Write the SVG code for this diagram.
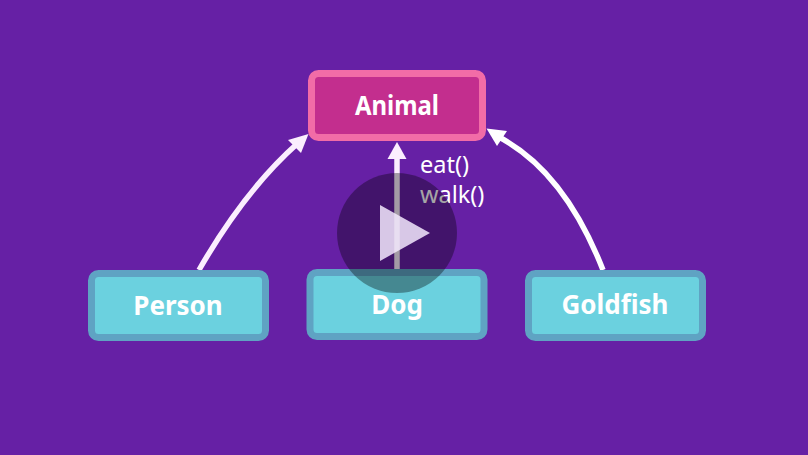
<svg xmlns="http://www.w3.org/2000/svg" width="808" height="455" viewBox="0 0 808 455">
<style>
.t{font-family:"Noto Sans","Open Sans","Liberation Sans",sans-serif;fill:#fff;text-anchor:middle}
.b{font-size:26px;font-weight:700}
.m{font-size:23.500px;text-anchor:start}
.c{fill:#6bd1df;stroke:#5fa3c3;stroke-width:7}
.l{fill:none;stroke:#fbeefe;stroke-width:5.500}
.h{fill:#fbeefe}
</style>
<rect width="808" height="455" fill="#6620a5"/>
<g id="connectors">
<path class="l" d="M199 270Q245 190 298 143"/>
<polygon class="h" points="308.500,134 301,153 288,140"/>
<path class="l" d="M397 269V155"/>
<polygon class="h" points="397,142 406.500,159 387.500,159"/>
<path class="l" style="stroke:#fff" d="M603 270Q564 170 497 136"/>
<polygon style="fill:#fff" points="486.500,128.500 507,131 497,146"/>
</g>
<g id="animal">
<rect x="311.500" y="73.500" width="171" height="64" rx="7" fill="#c32e8e" stroke="#f26ca7" stroke-width="7"/>
<text class="t b" x="397" y="115" textLength="84" lengthAdjust="spacingAndGlyphs">Animal</text>
</g>
<g id="methods">
<text class="t m" x="420" y="173">eat()</text>
<text class="t m" x="420" y="203">walk()</text>
</g>
<g id="person">
<rect class="c" x="91.500" y="273.500" width="174" height="64" rx="7"/>
<text class="t b" x="178" y="315">Person</text>
</g>
<g id="dog">
<rect class="c" x="310" y="272.500" width="174" height="64" rx="7"/>
<text class="t b" x="397" y="314">Dog</text>
</g>
<g id="goldfish">
<rect class="c" x="528.500" y="273.500" width="174" height="64" rx="7"/>
<text class="t b" x="615" y="314">Goldfish</text>
</g>
<g id="play">
<circle cx="397" cy="233" r="60" fill="#000" fill-opacity=".35"/>
<polygon points="380,205 380,261 430,233" fill="#f6ebff" fill-opacity=".84"/>
</g>
</svg>
